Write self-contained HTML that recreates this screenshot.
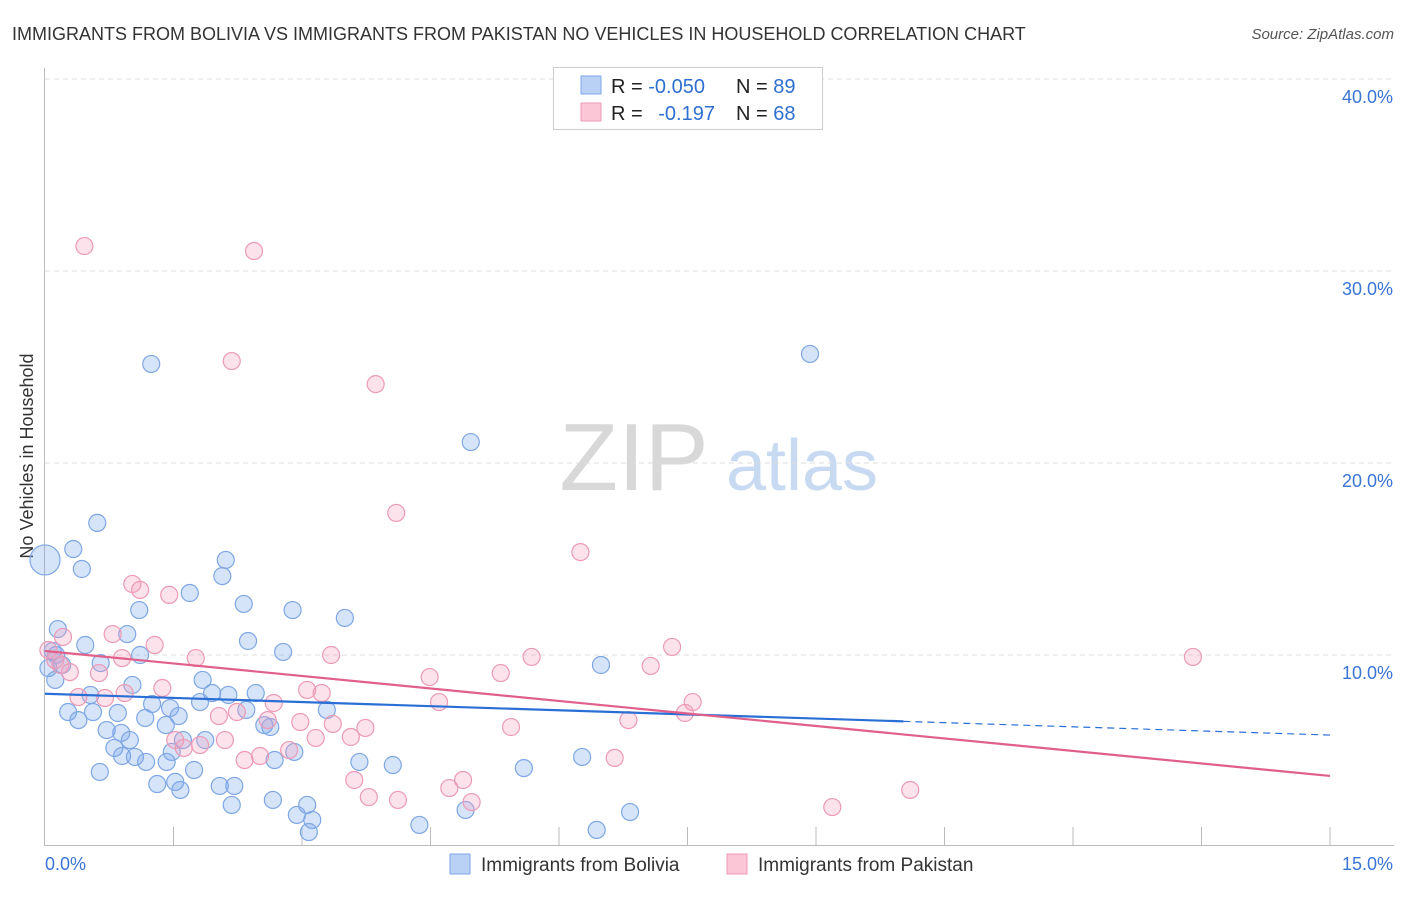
<!DOCTYPE html>
<html><head><meta charset="utf-8"><style>
body{margin:0;background:#fff;font-family:"Liberation Sans",sans-serif;}
svg text{font-family:"Liberation Sans",sans-serif;}
</style></head><body>
<svg id="chart" width="1406" height="892">
<text x="12" y="40" font-size="18" fill="#333">IMMIGRANTS FROM BOLIVIA VS IMMIGRANTS FROM PAKISTAN NO VEHICLES IN HOUSEHOLD CORRELATION CHART</text>
<text x="1394" y="39" font-size="15" fill="#555" font-style="italic" text-anchor="end">Source: ZipAtlas.com</text>
<text x="0" y="0" transform="translate(33,456) rotate(-90)" font-size="18" fill="#333" text-anchor="middle">No Vehicles in Household</text>
<g><text x="634" y="490" font-size="96" font-family="Liberation Serif" fill="#d8d8d8" text-anchor="middle">ZIP</text><text x="802" y="490" font-size="72" fill="#c8daf2" text-anchor="middle">atlas</text></g>
<g id="grid"></g><g id="ticks"></g><g id="marks"></g><g id="lines"></g>
<g>
<rect x="553.5" y="67.5" width="269" height="62" fill="#fff" stroke="#ccc"/>
<rect x="581" y="76" width="20" height="18" fill="#b8d1f5" stroke="#7fa8e6"/>
<rect x="581" y="103" width="20" height="18" fill="#fbc7d6" stroke="#ee9ab6"/>
<text x="611" y="93" font-size="20" fill="#222">R = <tspan fill="#2e6fd0">-0.050</tspan></text>
<text x="736" y="93" font-size="20" fill="#222">N = <tspan fill="#2e6fd0">89</tspan></text>
<text x="611" y="120" font-size="20" fill="#222">R = <tspan fill="#2e6fd0" dx="10">-0.197</tspan></text>
<text x="736" y="120" font-size="20" fill="#222">N = <tspan fill="#2e6fd0">68</tspan></text>
</g>
<g>
<rect x="450" y="854" width="20" height="20" fill="#b8d1f5" stroke="#7fa8e6"/>
<text x="481" y="871" font-size="19" fill="#333">Immigrants from Bolivia</text>
<rect x="727" y="854" width="20" height="20" fill="#fbc7d6" stroke="#ee9ab6"/>
<text x="758" y="871" font-size="19" fill="#333">Immigrants from Pakistan</text>
</g>
</svg>
<script>
const yTicks=[10,20,30,40];
const yTickLabels=["10.0%","20.0%","30.0%","40.0%"];
const xTickLabels=["0.0%","15.0%"];
const boliviaX=[0,1.24,8.93,4.97,0.61,0.33,0.43,2.11,2.07,1.69,2.32,1.10,3.50,2.89,0.15,0.96,0.47,2.37,2.78,0.09,1.11,0.65,6.49,0.12,1.02,1.84,0.53,1.95,2.14,2.46,1.25,1.81,1.46,0.27,0.56,0.85,1.56,2.35,3.29,0.39,1.17,1.41,2.56,0.72,0.89,2.63,0.99,1.61,1.87,0.81,1.48,2.91,0.90,1.05,1.18,1.42,3.67,4.06,2.68,5.59,6.27,0.64,1.74,1.31,1.52,1.58,2.04,2.21,2.66,2.18,3.06,2.94,3.12,4.91,6.83,3.08,4.37,6.44,0.04,0.20,0.13];
const boliviaY=[14.95,25.16,25.68,21.09,16.88,15.52,14.48,14.95,14.11,13.23,12.66,12.34,11.93,12.34,11.35,11.09,10.52,10.73,10.16,10.21,10.0,9.58,9.48,8.70,8.44,8.70,7.92,8.02,7.92,8.02,7.45,7.55,7.24,7.03,7.03,6.98,6.82,7.14,7.14,6.61,6.72,6.35,6.35,6.09,5.94,6.25,5.57,5.57,5.57,5.16,4.95,4.95,4.74,4.69,4.43,4.43,4.43,4.27,4.53,4.11,4.69,3.91,4.01,3.28,3.39,2.97,3.18,3.18,2.45,2.19,2.19,1.67,1.41,1.93,1.82,0.78,1.15,0.89,9.32,9.48,10.0];
const pakistanX=[0.46,2.44,2.18,3.86,4.10,6.25,1.02,1.11,1.45,0.21,0.79,1.28,1.76,0.90,0.18,0.29,0.63,3.34,5.68,7.32,7.07,13.40,4.49,5.32,0.93,1.37,3.06,3.23,0.39,0.70,2.67,7.56,7.47,4.60,2.24,2.03,2.60,2.98,3.36,3.74,5.44,6.81,1.52,1.62,1.81,2.10,3.16,3.57,2.85,2.51,2.33,6.65,3.61,4.88,4.72,3.78,4.12,4.98,9.19,10.10,0.04,0.12];
const pakistanY=[31.30,31.04,25.31,24.11,17.40,15.36,13.70,13.39,13.13,10.94,11.09,10.52,9.84,9.84,9.48,9.11,9.06,10.0,9.90,10.42,9.43,9.90,8.85,9.06,8.02,8.28,8.18,8.02,7.81,7.76,7.50,7.55,6.98,7.55,7.03,6.82,6.61,6.51,6.41,6.20,6.25,6.61,5.57,5.16,5.31,5.57,5.68,5.73,5.05,4.74,4.53,4.64,3.49,3.49,3.07,2.60,2.45,2.34,2.08,2.97,10.26,9.74];
const boliviaTrend=[7.98,5.83];
const pakistanTrend=[10.21,3.70];
const blueSolidEnd=10.02;
const NS="http://www.w3.org/2000/svg";
const xs=v=>45+v*(1285/15), ys=v=>847-v*19.2;
function mk(tag,attrs,parent){const e=document.createElementNS(NS,tag);for(const k in attrs)e.setAttribute(k,attrs[k]);document.getElementById(parent).appendChild(e);return e;}
yTicks.forEach((t,i)=>{
 const l=mk('line',{x1:45,x2:1394,y1:ys(t),y2:ys(t),stroke:'#ddd','stroke-dasharray':'5,4'},'grid');
 
 
 const tx=mk('text',{x:1393,y:ys(t)+24,'font-size':18,fill:'#3a75d6','text-anchor':'end'},'grid');tx.textContent=yTickLabels[i];
 
 
});
const ax=mk('line',{x1:44.5,x2:44.5,y1:68,y2:846,stroke:'#bbb'},'grid');


const bx=mk('line',{x1:44,x2:1394,y1:845.5,y2:845.5,stroke:'#bbb'},'grid');


for(let i=1;i<=10;i++){const t=mk('line',{x1:xs(i*1.5),x2:xs(i*1.5),y1:827,y2:845,stroke:'#bbb'},'ticks');
 
 }
[[0,'start',45],[15,'end',1393]].forEach((d,i)=>{const t=mk('text',{x:d[2],y:870,'font-size':18,fill:'#3a75d6','text-anchor':d[1]},'ticks');t.textContent=xTickLabels[i];
 
 });
function pts(X,Y,fill,stroke,name){X.forEach((x,i)=>{const r=(x===0&&Y[i]>14)?15:8.5;
 const c=mk('circle',{cx:xs(x),cy:ys(Y[i]),r:r,fill:fill,stroke:stroke,'stroke-width':1.2},'marks');
 
 });}
pts(boliviaX,boliviaY,'rgba(120,165,235,0.3)','#7ea7e4','bolivia-point');
pts(pakistanX,pakistanY,'rgba(245,160,190,0.3)','#ec9ab5','pakistan-point');
const by=x=>boliviaTrend[0]+(boliviaTrend[1]-boliviaTrend[0])*x/15;
const l1=mk('line',{x1:xs(0),y1:ys(by(0)),x2:xs(blueSolidEnd),y2:ys(by(blueSolidEnd)),stroke:'#2a6fd6','stroke-width':2.2},'lines');


const l2=mk('line',{x1:xs(blueSolidEnd),y1:ys(by(blueSolidEnd)),x2:xs(15),y2:ys(by(15)),stroke:'#2a6fd6','stroke-width':1.2,'stroke-dasharray':'7,5'},'lines');


const l3=mk('line',{x1:xs(0),y1:ys(pakistanTrend[0]),x2:xs(15),y2:ys(pakistanTrend[1]),stroke:'#e0608a','stroke-width':2.2},'lines');


</script>
</body></html>
